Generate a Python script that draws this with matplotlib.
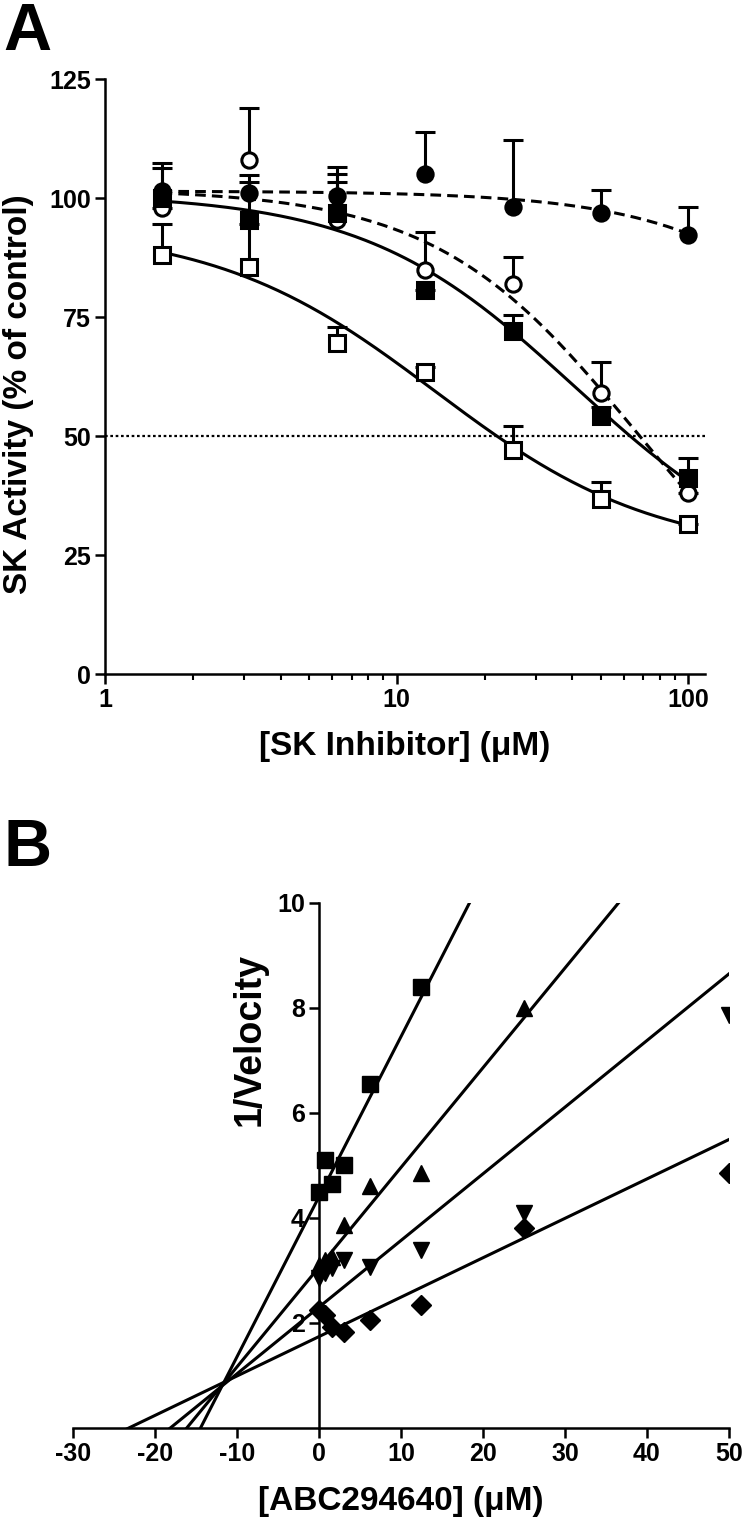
import numpy as np
import matplotlib
matplotlib.use("Agg")
import matplotlib.pyplot as plt
from matplotlib.ticker import LogLocator, NullFormatter

plt.rcParams['font.family'] = ['Liberation Sans', 'DejaVu Sans']
plt.rcParams['font.weight'] = 'bold'
plt.rcParams['axes.unicode_minus'] = False

# ---- panel A data: SK activity vs inhibitor concentration
concA = [1.5625, 3.125, 6.25, 12.5, 25, 50, 100]

filledCircle = [101.5, 101, 100.5, 105.2, 98.2, 96.8, 92.2]
filledCircleErr = [6, 3.8, 6, 8.7, 14, 5, 6]
openCircle = [98, 108, 95.5, 85, 82, 59, 38]
openCircleErr = [0, 11, 8, 8, 5.6, 6.5, 0]
filledSquare = [100, 95.5, 97, 80.7, 72, 54.2, 41.2]
filledSquareErr = [6.3, 8, 8, 0, 3.4, 2, 4.2]
openSquare = [88, 85.5, 69.5, 63.5, 47, 36.8, 31.5]
openSquareErr = [6.5, 9, 3.5, 1, 5.2, 3.5, 0]

# fitted curve parameters (top, bottom, IC50, hill)
fitFilledCircle = (101.5, 0, 656, 1.24)
fitOpenCircle = (102, 0, 66, 1.26)
fitFilledSquare = (101, 20, 40.6, 1.2)
fitOpenSquare = (94, 25, 13.5, 1.15)

# ---- panel B data: Dixon plot
concB = [0, 0.78125, 1.5625, 3.125, 6.25, 12.5, 25, 50]
squaresB = [4.5, 5.1, 4.65, 5.0, 6.55, 8.4]
trianglesUpB = [3.1, 3.2, 3.25, 3.87, 4.6, 4.86, 8.0]
trianglesDownB = [2.85, 2.95, 3.05, 3.2, 3.07, 3.39, 4.1, 7.87]
diamondsB = [2.25, 2.15, 1.93, 1.83, 2.06, 2.35, 3.8, 4.86]

# regression lines (slope, intercept)
lineSquares = (0.305, 4.4)
lineTrianglesUp = (0.19, 3.06)
lineTrianglesDown = (0.127, 2.30)
lineDiamonds = (0.0751, 1.74)


def logistic(x, top, bottom, ic50, hill):
    return bottom + (top - bottom) / (1 + (x / ic50) ** hill)


fig = plt.figure(figsize=(7.5, 15.25), dpi=100)

# ================= Panel A =================
axA = fig.add_axes([0.14, 0.558, 0.80, 0.39])
xs = np.logspace(np.log10(concA[0]), np.log10(concA[-1]), 200)

dash = (0, (3.5, 2))
curves = [(fitFilledCircle, dash), (fitOpenCircle, dash),
          (fitFilledSquare, '-'), (fitOpenSquare, '-')]
for params, ls in curves:
    axA.plot(xs, logistic(xs, *params), color='black', lw=2.2, ls=ls, zorder=2)

axA.axhline(50, color='black', lw=1.6, ls=(0, (1.2, 1.2)), zorder=1)

series = [
    (filledCircle, filledCircleErr, 'o', 'black', 11),
    (openCircle, openCircleErr, 'o', 'white', 11),
    (filledSquare, filledSquareErr, 's', 'black', 12),
    (openSquare, openSquareErr, 's', 'white', 12),
]
for vals, err, marker, face, ms in series:
    err = np.array(err, dtype=float)
    eb = axA.errorbar(concA, vals, yerr=[np.zeros_like(err), err], fmt='none',
                      ecolor='black', elinewidth=2.2, capsize=7, capthick=2.2, zorder=2)
    eb[1][0].set_visible(False)
for vals, err, marker, face, ms in series:
    axA.plot(concA, vals, ls='none', marker=marker, ms=ms, mfc=face, mec='black',
             mew=2.2, zorder=3)

axA.set_xscale('log')
axA.set_xlim(1, 114)
axA.set_ylim(0, 125)
axA.set_xticks([1, 10, 100], labels=['1', '10', '100'])
axA.xaxis.set_minor_locator(LogLocator(base=10, subs=np.arange(2, 10)))
axA.xaxis.set_minor_formatter(NullFormatter())
axA.set_yticks([0, 25, 50, 75, 100, 125])
axA.spines['top'].set_visible(False)
axA.spines['right'].set_visible(False)
for s in ['left', 'bottom']:
    axA.spines[s].set_linewidth(1.8)
axA.tick_params(axis='both', which='major', direction='out', length=7, width=1.8,
                labelsize=18, pad=3)
axA.tick_params(axis='x', which='minor', direction='out', length=4, width=1.5)
axA.set_xlabel('[SK Inhibitor] (μM)', fontsize=24, fontweight='bold')
axA.xaxis.set_label_coords(0.5, -0.095)
fig.text(0.004, 0.558 + 0.39 * 0.47, 'SK Activity (% of control)', rotation=90,
         fontsize=24, fontweight='bold', ha='left', va='center')

fig.text(0.005, 0.999, 'A', fontsize=48, fontweight='bold', va='top', ha='left')

# ================= Panel B =================
axB = fig.add_axes([0.097, 0.0636, 0.875, 0.3443])
xl = np.linspace(-30, 50, 400)
for slope, icpt in [lineSquares, lineTrianglesUp, lineTrianglesDown, lineDiamonds]:
    axB.plot(xl, slope * xl + icpt, color='black', lw=2.2, zorder=2)

axB.plot(concB[:len(squaresB)], squaresB, ls='none', marker='s', ms=12, color='black', zorder=3)
axB.plot(concB[:len(trianglesUpB)], trianglesUpB, ls='none', marker='^', ms=12, color='black', zorder=3)
axB.plot(concB, trianglesDownB, ls='none', marker='v', ms=12, color='black', zorder=3)
axB.plot(concB, diamondsB, ls='none', marker='D', ms=10, color='black', zorder=3)

axB.set_xlim(-30, 50)
axB.set_ylim(0, 10)
axB.set_xticks(np.arange(-30, 51, 10))
axB.set_yticks([2, 4, 6, 8, 10])
axB.spines['left'].set_position(('data', 0))
axB.spines['top'].set_visible(False)
axB.spines['right'].set_visible(False)
for s in ['left', 'bottom']:
    axB.spines[s].set_linewidth(1.8)
axB.tick_params(axis='both', direction='out', length=7, width=1.8, labelsize=18, pad=3)
axB.set_xlabel('[ABC294640] (μM)', fontsize=24, fontweight='bold')
axB.xaxis.set_label_coords(0.5, -0.11)
axB.text(0.27, 0.74, '1/Velocity', transform=axB.transAxes, rotation=90,
         fontsize=27, fontweight='bold', ha='center', va='center')

fig.text(0.005, 0.4636, 'B', fontsize=48, fontweight='bold', va='top', ha='left')

fig.savefig('out.png', dpi=100)
